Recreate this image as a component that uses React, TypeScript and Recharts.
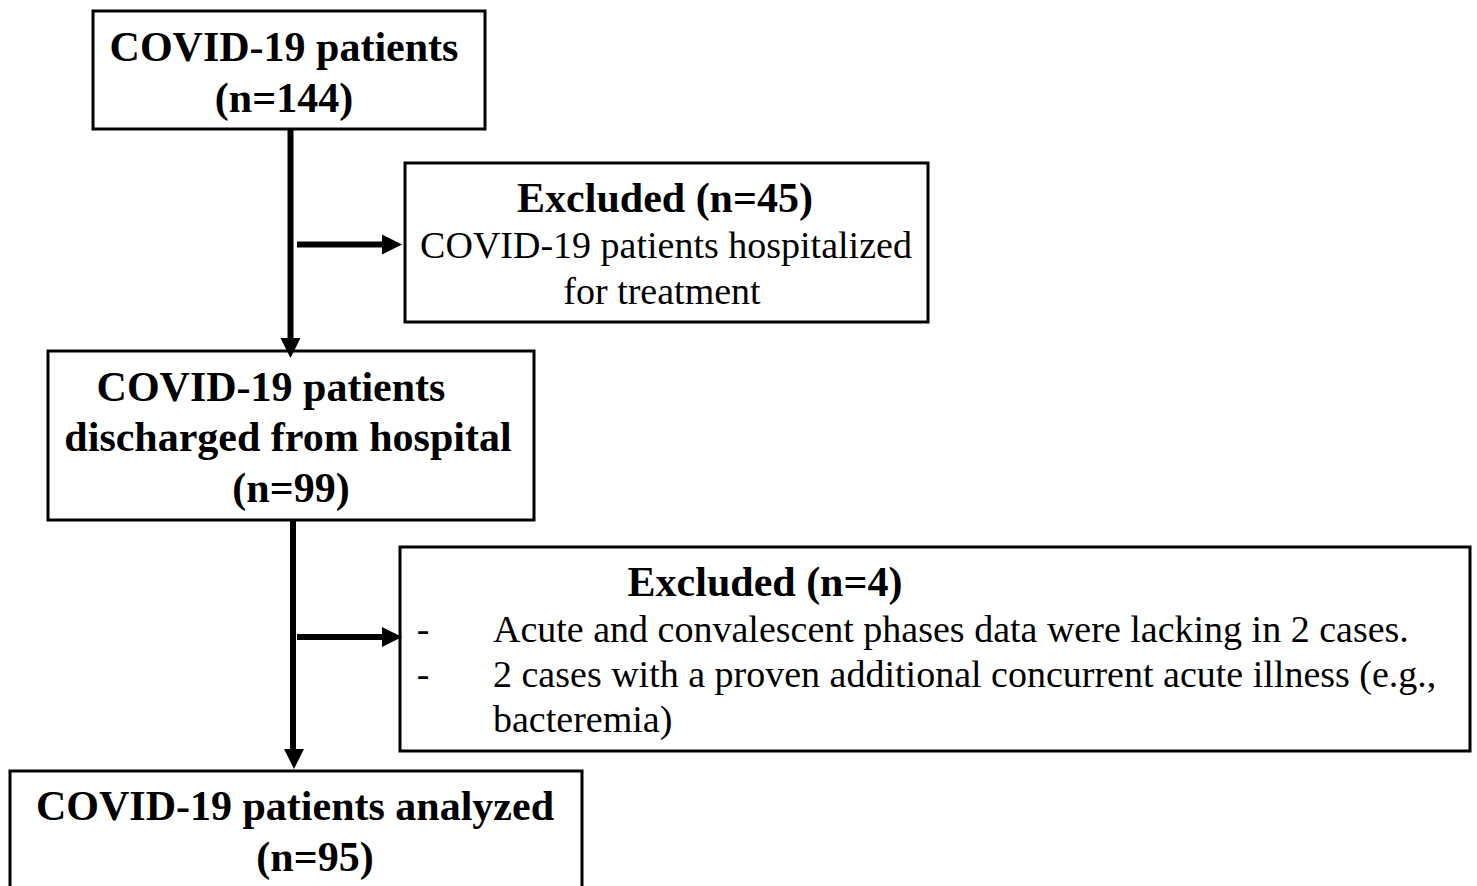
import { ScatterChart, Scatter, XAxis, YAxis, ReferenceArea, ReferenceLine } from "recharts";

// flowchart drawn on a pixel-like grid: x 0..1477, y 0..886 (top = 0)
const W = 1477;
const H = 886;

type Box = { id: string; x1: number; x2: number; y1: number; y2: number };
type Link = { id: string; from: [number, number]; to: [number, number] };
type Tip = { x: number; y: number; dir: "down" | "right" };
type Line = { x: number; y: number; text: string; kind: "title" | "body" | "bodyLeft" };

const boxes: Box[] = [
  { id: "all", x1: 93, x2: 485, y1: 11, y2: 129 },
  { id: "excl45", x1: 405, x2: 928, y1: 163, y2: 322 },
  { id: "discharged", x1: 48, x2: 534, y1: 351, y2: 520 },
  { id: "excl4", x1: 400, x2: 1470, y1: 547, y2: 751 },
  { id: "analyzed", x1: 10, x2: 582, y1: 771, y2: 892 },
];

const links: Link[] = [
  { id: "v1", from: [290.5, 129], to: [290.5, 342] },
  { id: "h1", from: [297, 244.5], to: [386, 244.5] },
  { id: "v2", from: [293, 520], to: [293, 754] },
  { id: "h2", from: [297, 637], to: [386, 637] },
];

const tips: Tip[] = [
  { x: 290.5, y: 358, dir: "down" },
  { x: 402, y: 244.5, dir: "right" },
  { x: 294, y: 769, dir: "down" },
  { x: 402, y: 637, dir: "right" },
];

const lines: Line[] = [
  { x: 284, y: 61, text: "COVID-19 patients", kind: "title" },
  { x: 284, y: 112, text: "(n=144)", kind: "title" },
  { x: 665, y: 212, text: "Excluded (n=45)", kind: "title" },
  { x: 666, y: 258, text: "COVID-19 patients hospitalized", kind: "body" },
  { x: 662, y: 304, text: "for treatment", kind: "body" },
  { x: 271, y: 401, text: "COVID-19 patients", kind: "title" },
  { x: 288, y: 451, text: "discharged from hospital", kind: "title" },
  { x: 291, y: 502, text: "(n=99)", kind: "title" },
  { x: 765, y: 596, text: "Excluded (n=4)", kind: "title" },
  { x: 423, y: 642, text: "-", kind: "body" },
  { x: 493, y: 642, text: "Acute and convalescent phases data were lacking in 2 cases.", kind: "bodyLeft" },
  { x: 423, y: 687, text: "-", kind: "body" },
  { x: 493, y: 687, text: "2 cases with a proven additional concurrent acute illness (e.g.,", kind: "bodyLeft" },
  { x: 493, y: 732, text: "bacteremia)", kind: "bodyLeft" },
  { x: 295, y: 820, text: "COVID-19 patients analyzed", kind: "title" },
  { x: 315, y: 871, text: "(n=95)", kind: "title" },
];

const serif = "'Liberation Serif', 'Times New Roman', serif";

function ArrowHead(props: any) {
  const { cx, cy, payload } = props;
  if (cx == null || cy == null) return null;
  const len = 20;
  const half = 10;
  const pts =
    payload.dir === "down"
      ? `${cx},${cy} ${cx - half},${cy - len} ${cx + half},${cy - len}`
      : `${cx},${cy} ${cx - len},${cy - half} ${cx - len},${cy + half}`;
  return <polygon points={pts} fill="#000" />;
}

function TextLine(props: any) {
  const { cx, cy, payload } = props;
  if (cx == null || cy == null) return null;
  const title = payload.kind === "title";
  return (
    <text
      x={cx}
      y={cy}
      textAnchor={payload.kind === "bodyLeft" ? "start" : "middle"}
      fontFamily={serif}
      fontWeight={title ? 700 : 400}
      fontSize={title ? 42 : 38}
      fill="#000"
    >
      {payload.text}
    </text>
  );
}

export default function App() {
  return (
    <div style={{ position: "absolute", left: 0, top: 0, background: "#fff" }}>
      <ScatterChart width={W} height={H} margin={{ top: 0, right: 0, bottom: 0, left: 0 }}>
        <XAxis type="number" dataKey="x" domain={[0, W]} allowDataOverflow hide />
        <YAxis type="number" dataKey="y" domain={[0, H]} allowDataOverflow reversed hide />

        {/* boxes */}
        {boxes.map((b) => (
          <ReferenceArea
            key={b.id}
            x1={b.x1}
            x2={b.x2}
            y1={b.y1}
            y2={b.y2}
            fill="#fff"
            fillOpacity={1}
            stroke="#000"
            strokeWidth={3}
            ifOverflow="visible"
          />
        ))}

        {/* connectors */}
        {links.map((l) => (
          <ReferenceLine
            key={l.id}
            segment={[
              { x: l.from[0], y: l.from[1] },
              { x: l.to[0], y: l.to[1] },
            ]}
            stroke="#000"
            strokeWidth={6}
            ifOverflow="visible"
          />
        ))}

        <Scatter data={tips} shape={ArrowHead} isAnimationActive={false} />
        <Scatter data={lines} shape={TextLine} isAnimationActive={false} />
      </ScatterChart>
    </div>
  );
}
